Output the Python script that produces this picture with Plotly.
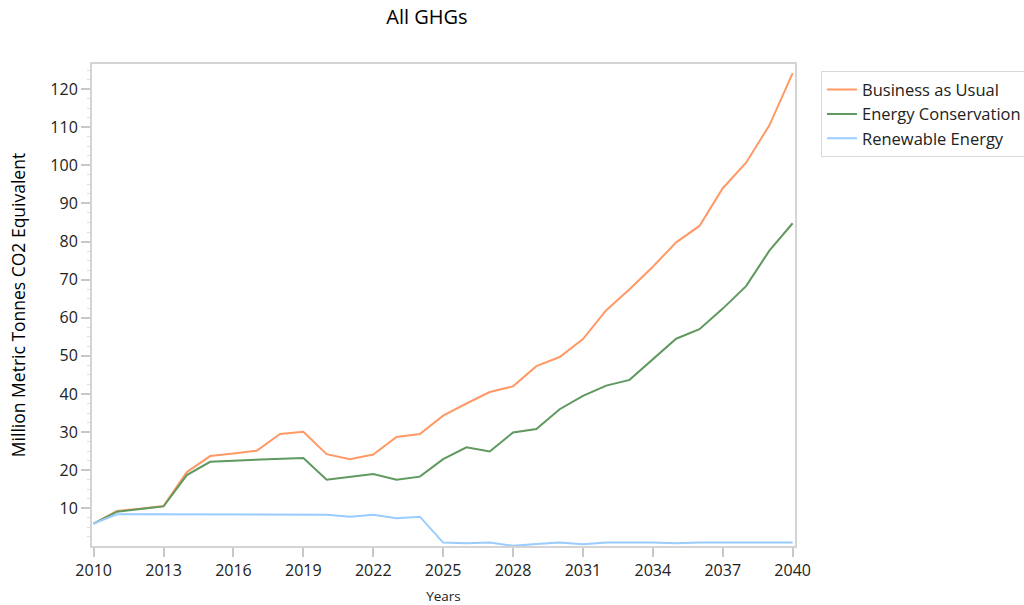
import plotly.graph_objects as go

years = list(range(2010, 2041))

business_as_usual = [6.0, 9.3, 9.9, 10.6, 19.5, 23.7, 24.4, 25.1, 29.5, 30.1,
                     24.2, 22.9, 24.1, 28.7, 29.5, 34.3, 37.5, 40.5, 42.0, 47.3,
                     49.7, 54.4, 62.0, 67.5, 73.4, 79.8, 84.1, 94.0, 100.7, 110.5, 124.2]

energy_conservation = [6.0, 9.1, 9.8, 10.5, 18.7, 22.2, 22.5, 22.7, 23.0, 23.2,
                       17.5, 18.2, 19.0, 17.5, 18.3, 22.9, 26.0, 24.9, 29.9, 30.8,
                       36.0, 39.5, 42.2, 43.7, 49.2, 54.5, 57.0, 62.4, 68.3, 77.6, 84.8]

renewable_energy = [6.0, 8.4, 8.4, 8.4, 8.4, 8.4, 8.4, 8.4, 8.4, 8.4,
                    8.3, 7.8, 8.3, 7.4, 7.8, 1.0, 0.8, 1.0, 0.15, 0.6,
                    1.0, 0.55, 1.0, 1.0, 1.0, 0.8, 1.0, 1.0, 1.0, 1.0, 1.0]

series_names = ["Business as Usual", "Energy Conservation", "Renewable Energy"]
series_colors = ["#FF9966", "#5F995F", "#99CCFF"]
series_values = [business_as_usual, energy_conservation, renewable_energy]

x_ticks = list(range(2010, 2041, 3))
y_ticks = list(range(10, 121, 10))

FONT = "Open Sans"

fig = go.Figure()
for name, color, vals in zip(series_names, series_colors, series_values):
    fig.add_trace(go.Scatter(x=years, y=vals, name=name, mode="lines",
                             line=dict(color=color, width=2)))

fig.update_layout(
    width=1024, height=605,
    paper_bgcolor="white", plot_bgcolor="white",
    margin=dict(l=92, r=229, t=64, b=59, autoexpand=False),
    font=dict(family=FONT, size=16, color="#222222"),
    title=dict(text="All GHGs", x=0.417, xanchor="center", y=0.972, yanchor="middle",
               font=dict(family=FONT, size=20, color="#000000")),
    legend=dict(x=1.037, y=0.985, xanchor="left", yanchor="top",
                bordercolor="#D9D9D9", borderwidth=1, bgcolor="white",
                tracegroupgap=0,
                font=dict(family=FONT, size=16.5, color="#222222")),
    showlegend=True,
)

fig.update_xaxes(
    range=[2009.93, 2040.1], tickvals=x_ticks, ticktext=[str(t) for t in x_ticks],
    showgrid=False, zeroline=False,
    showline=True, linecolor="#D4D4D4", linewidth=2, mirror=True,
    ticks="outside", ticklen=9, tickwidth=2, tickcolor="#C8C8C8",
    tickfont=dict(size=16, color="#222222"),
    title=dict(text="Years", font=dict(size=13.5, color="#222222"), standoff=12),
)

fig.update_yaxes(
    range=[0.1, 126.6], tickvals=y_ticks,
    showgrid=False, zeroline=False,
    showline=True, linecolor="#D4D4D4", linewidth=2, mirror=True,
    ticks="outside", ticklen=9, tickwidth=2, tickcolor="#C8C8C8",
    tickfont=dict(size=16, color="#222222"),
    minor=dict(dtick=2.5, tick0=0, ticks="outside", ticklen=3, tickwidth=1, tickcolor="#DDDDDD"),
    title=dict(text="Million Metric Tonnes CO2 Equivalent", font=dict(size=17.5, color="#000000"), standoff=20),
)

fig.write_html("out.html", config={"displayModeBar": False},
               post_script="document.body.style.margin='0';document.body.style.overflow='hidden';")
